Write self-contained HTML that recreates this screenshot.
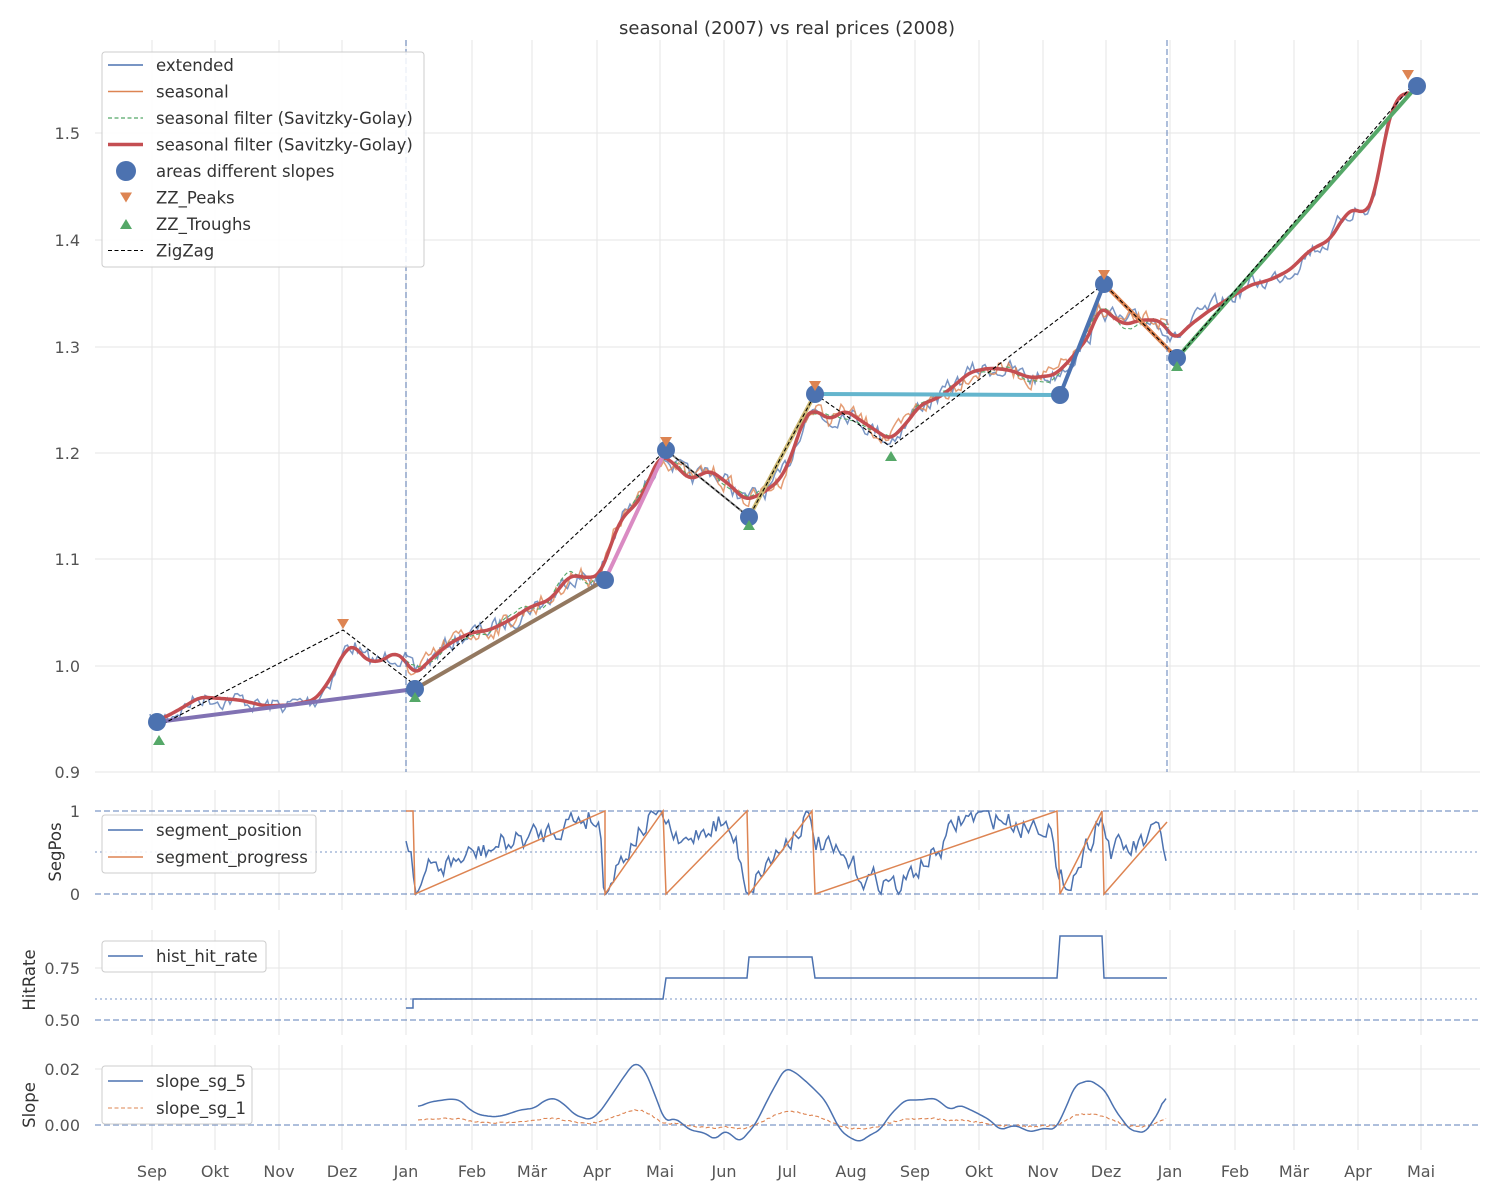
<!DOCTYPE html>
<html><head><meta charset="utf-8"><style>
body{margin:0;background:#fff}
svg{display:block;font-family:"DejaVu Sans","Liberation Sans",sans-serif}
</style></head><body>
<svg id="s" width="1500" height="1200" xmlns="http://www.w3.org/2000/svg"></svg>
<script>
const S=document.getElementById('s');let h='';
let seed=7;function rnd(){seed=(seed*16807)%2147483647;return seed/2147483647-0.5;}
function interp(P,x){if(x<=P[0][0])return P[0][1];for(let i=1;i<P.length;i++){if(x<=P[i][0]){const a=P[i-1],b=P[i];return a[1]+(b[1]-a[1])*(x-a[0])/(b[0]-a[0]);}}return P[P.length-1][1];}
function path(pts,st){return `<path d="M${pts.map(p=>p[0].toFixed(1)+','+p[1].toFixed(1)).join('L')}" fill="none" ${st}/>`;}
function smooth(arr,k){return arr.map((p,i)=>{let s=0,n=0;for(let j=-k;j<=k;j++){const q=arr[i+j];if(q){s+=q[1];n++;}}return [p[0],s/n];});}
function noisy(P,x0,x1,amp,step){let out=[];let v=0;for(let x=x0;x<=x1;x+=step){v=v*0.5+rnd()*amp;out.push([x,interp(P,x)+v]);}return out;}
const FS=16.5;
const months=[152,215,279,342,406,472,532,597,660,724,787,851,915,979,1043,1106,1170,1235,1294,1358,1421];
const mn=['Sep','Okt','Nov','Dez','Jan','Feb','Mär','Apr','Mai','Jun','Jul','Aug','Sep','Okt','Nov','Dez','Jan','Feb','Mär','Apr','Mai'];
const G='stroke="#e6e6e6" stroke-width="1"';
function vgrid(y0,y1){months.forEach(x=>h+=`<line x1="${x}" x2="${x}" y1="${y0}" y2="${y1}" ${G}/>`);}
h+=`<text x="787" y="34" font-size="18" fill="#333" text-anchor="middle">seasonal (2007) vs real prices (2008)</text>`;
vgrid(40,772);
[[0.9,772],[1.0,666],[1.1,559],[1.2,453],[1.3,347],[1.4,240],[1.5,133]].forEach(([v,y])=>{h+=`<line x1="95" x2="1480" y1="${y}" y2="${y}" ${G}/><text x="80" y="${y+6}" font-size="16" fill="#555" text-anchor="end">${v.toFixed(1)}</text>`;});
const R=[[155,722],[175,712],[200,697],[215,698],[240,700],[265,706],[290,705],[315,700],[330,680],[345,650],[355,645],[365,660],[380,662],[395,652],[405,660],[415,675],[430,660],[450,643],[470,633],[490,630],[510,620],[530,607],[550,600],[570,575],[590,578],[600,575],[620,520],[640,500],[660,455],[670,460],[690,480],[710,470],[730,485],[745,500],[760,495],[780,480],[790,460],[805,415],[815,410],[830,420],[845,410],[860,420],[875,430],[890,440],[905,425],[920,405],[940,397],[955,385],[970,372],[990,368],[1010,370],[1030,378],[1055,375],[1070,360],[1090,335],[1100,305],[1110,315],[1125,325],[1140,320],[1160,320],[1175,340],[1190,325],[1210,310],[1230,298],[1250,285],[1270,280],[1290,270],[1310,250],[1330,240],[1345,215],[1355,208],[1365,215],[1375,195],[1385,135],[1395,100],[1410,90]];
h+=path(noisy(R,150,1420,16,2.5),'stroke="#4c72b0" stroke-opacity="0.75" stroke-width="1.5"');
h+=path(noisy(R,406,1170,16,2.5),'stroke="#dd8452" stroke-opacity="0.8" stroke-width="1.5"');
h+=path(smooth(noisy(R,406,1170,14,2.5),3),'stroke="#55a868" stroke-width="1.1" stroke-dasharray="4,2.5"');
let rp=[];for(let x=155;x<=1410;x+=2)rp.push([x,interp(R,x)]);rp=smooth(rp,3);
h+=path(rp,'stroke="#c44e52" stroke-width="3.5" stroke-linejoin="round"');
const A=[[157,722],[415,689],[605,580],[666,450],[749,517],[815,394],[1060,395],[1104,284],[1177,358],[1417,86]];
const SC=['#8172b3','#937860','#da8bc3','#8c8c8c','#ccb974','#64b5cd','#4c72b0','#dd8452','#55a868'];
for(let i=0;i<9;i++){h+=`<line x1="${A[i][0]}" y1="${A[i][1]}" x2="${A[i+1][0]}" y2="${A[i+1][1]}" stroke="${SC[i]}" stroke-width="${i==3?2:4}"/>`;}
h+=path([[157,727],[343,630],[415,685],[666,450],[749,517],[815,394],[891,447],[1104,284],[1177,358],[1410,88]],'stroke="#000" stroke-width="1.1" stroke-dasharray="4,2.5"');
A.forEach(p=>h+=`<circle cx="${p[0]}" cy="${p[1]}" r="9" fill="#4c72b0"/>`);
[[343,624],[666,442],[815,386],[1104,275],[1408,75]].forEach(([x,y])=>h+=`<path d="M${x-6},${y-5}L${x+6},${y-5}L${x},${y+5}Z" fill="#dd8452"/>`);
[[159,740],[415,697],[749,525],[891,456],[1177,366]].forEach(([x,y])=>h+=`<path d="M${x-6},${y+5}L${x+6},${y+5}L${x},${y-5}Z" fill="#55a868"/>`);
[406,1167].forEach(x=>h+=`<line x1="${x}" x2="${x}" y1="40" y2="772" stroke="#4c72b0" stroke-opacity="0.6" stroke-width="1.5" stroke-dasharray="6,3"/>`);
h+=`<rect x="102" y="52" width="322" height="215" rx="3" fill="#fff" fill-opacity="0.85" stroke="#ccc"/>`;
const L=[['line','#4c72b0',1.5,'','extended'],['line','#dd8452',1.5,'','seasonal'],['line','#55a868',1.2,'4,2.5','seasonal filter (Savitzky-Golay)'],['line','#c44e52',3.5,'','seasonal filter (Savitzky-Golay)'],['dot','','','','areas different slopes'],['dn','','','','ZZ_Peaks'],['up','','','','ZZ_Troughs'],['line','#000',1.1,'4,2.5','ZigZag']];
L.forEach((e,i)=>{const y=65+i*26.5;if(e[0]=='line')h+=`<line x1="108" x2="143" y1="${y}" y2="${y}" stroke="${e[1]}" stroke-width="${e[2]}" ${e[3]?`stroke-dasharray="${e[3]}"`:''}/>`;
if(e[0]=='dot')h+=`<circle cx="126" cy="${y}" r="10" fill="#4c72b0"/>`;
if(e[0]=='dn')h+=`<path d="M120,${y-5}L132,${y-5}L126,${y+5}Z" fill="#dd8452"/>`;
if(e[0]=='up')h+=`<path d="M120,${y+5}L132,${y+5}L126,${y-5}Z" fill="#55a868"/>`;
h+=`<text x="156" y="${y+6}" font-size="${FS}" fill="#333">${e[4]}</text>`;});
// SegPos
vgrid(790,910);
h+=`<line x1="95" x2="1480" y1="811" y2="811" stroke="#4c72b0" stroke-opacity="0.6" stroke-width="1.5" stroke-dasharray="6,3"/><line x1="95" x2="1480" y1="894" y2="894" stroke="#4c72b0" stroke-opacity="0.6" stroke-width="1.5" stroke-dasharray="6,3"/><line x1="95" x2="1480" y1="852" y2="852" stroke="#4c72b0" stroke-opacity="0.6" stroke-width="1.3" stroke-dasharray="2,3"/>`;
h+=`<text x="80" y="817" font-size="16" fill="#555" text-anchor="end">1</text><text x="80" y="900" font-size="16" fill="#555" text-anchor="end">0</text>`;
h+=`<text transform="translate(61,852) rotate(-90)" font-size="${FS}" fill="#333" text-anchor="middle">SegPos</text>`;
const segs=[[415,605],[605,663],[666,747],[749,812],[815,1057],[1060,1102],[1104,1167]];
let op=[[406,811],[413,811]];segs.forEach((s,i)=>{op.push([s[0],894]);op.push([s[1],i==6?822:811]);});
const BP=[[406,840],[412,850],[416,890],[430,870],[460,860],[500,845],[540,835],[570,820],[590,815],[600,825],[604,890],[620,860],[640,830],[660,811],[670,830],[680,850],[700,830],[720,820],[735,840],[748,890],[760,870],[780,850],[795,830],[805,815],[815,840],[840,860],[870,880],[890,880],[900,890],[915,870],[940,850],[960,820],[990,815],[1020,825],[1050,820],[1058,890],[1075,870],[1090,840],[1100,811],[1110,850],[1130,850],[1150,840],[1160,830],[1167,860]];
h+=path(noisy(BP,406,1167,22,2.5).map(p=>[p[0],Math.max(811,Math.min(894,p[1]))]),'stroke="#4c72b0" stroke-width="1.5"');
h+=path(op,'stroke="#dd8452" stroke-width="1.5"');
h+=`<rect x="102" y="815" width="214" height="58" rx="3" fill="#fff" fill-opacity="0.85" stroke="#ccc"/>`;
h+=`<line x1="108" x2="143" y1="830" y2="830" stroke="#4c72b0" stroke-width="1.5"/><text x="156" y="836" font-size="${FS}" fill="#333">segment_position</text>`;
h+=`<line x1="108" x2="143" y1="857" y2="857" stroke="#dd8452" stroke-width="1.5"/><text x="156" y="863" font-size="${FS}" fill="#333">segment_progress</text>`;
// HitRate
vgrid(930,1035);
h+=`<line x1="95" x2="1480" y1="968" y2="968" ${G}/><line x1="95" x2="1480" y1="1020" y2="1020" stroke="#4c72b0" stroke-opacity="0.6" stroke-width="1.5" stroke-dasharray="6,3"/><line x1="95" x2="1480" y1="999" y2="999" stroke="#4c72b0" stroke-opacity="0.6" stroke-width="1.3" stroke-dasharray="2,3"/>`;
h+=`<text x="80" y="974" font-size="16" fill="#555" text-anchor="end">0.75</text><text x="80" y="1026" font-size="16" fill="#555" text-anchor="end">0.50</text>`;
h+=`<text transform="translate(35,980) rotate(-90)" font-size="${FS}" fill="#333" text-anchor="middle">HitRate</text>`;
h+=path([[406,1008],[413,1008],[413,999],[663,999],[666,978],[747,978],[749,957],[812,957],[815,978],[1057,978],[1060,936],[1102,936],[1104,978],[1167,978]],'stroke="#4c72b0" stroke-width="1.5"');
h+=`<rect x="102" y="941" width="164" height="31" rx="3" fill="#fff" fill-opacity="0.85" stroke="#ccc"/><line x1="108" x2="143" y1="956" y2="956" stroke="#4c72b0" stroke-width="1.5"/><text x="156" y="962" font-size="${FS}" fill="#333">hist_hit_rate</text>`;
// Slope
vgrid(1045,1150);
h+=`<line x1="95" x2="1480" y1="1069" y2="1069" ${G}/><line x1="95" x2="1480" y1="1125" y2="1125" stroke="#4c72b0" stroke-opacity="0.6" stroke-width="1.5" stroke-dasharray="6,3"/>`;
h+=`<text x="80" y="1075" font-size="16" fill="#555" text-anchor="end">0.02</text><text x="80" y="1131" font-size="16" fill="#555" text-anchor="end">0.00</text>`;
h+=`<text transform="translate(35,1105) rotate(-90)" font-size="${FS}" fill="#333" text-anchor="middle">Slope</text>`;
const SP=[[418,1107],[430,1102],[450,1099],[460,1100],[470,1110],[480,1115],[495,1117],[505,1115],[520,1110],[535,1108],[545,1100],[555,1098],[565,1105],[575,1115],[590,1120],[600,1112],[615,1090],[625,1075],[635,1062],[645,1070],[655,1095],[665,1122],[675,1118],[690,1130],[705,1133],[715,1140],[725,1130],[740,1142],[755,1125],[770,1095],[785,1068],[795,1072],[810,1085],[825,1100],[840,1130],[850,1138],[860,1142],[870,1135],[880,1130],[890,1115],[905,1100],[920,1100],[935,1098],[950,1110],[960,1105],[975,1112],[990,1120],[1000,1130],[1015,1125],[1030,1132],[1045,1128],[1055,1130],[1065,1110],[1075,1085],[1090,1080],[1105,1090],[1115,1110],[1130,1130],[1145,1133],[1160,1110],[1167,1090]];
let sp=[];for(let x=418;x<=1167;x+=2)sp.push([x,interp(SP,x)]);sp=smooth(sp,2);
h+=path(sp.map(p=>[p[0],1125-(1125-p[1])*0.25+rnd()*1.5]),'stroke="#dd8452" stroke-width="1.1" stroke-dasharray="4,2.5"');
h+=path(sp,'stroke="#4c72b0" stroke-width="1.5"');
h+=`<rect x="102" y="1066" width="150" height="58" rx="3" fill="#fff" fill-opacity="0.85" stroke="#ccc"/>`;
h+=`<line x1="108" x2="143" y1="1081" y2="1081" stroke="#4c72b0" stroke-width="1.5"/><text x="156" y="1087" font-size="${FS}" fill="#333">slope_sg_5</text>`;
h+=`<line x1="108" x2="143" y1="1108" y2="1108" stroke="#dd8452" stroke-width="1.1" stroke-dasharray="4,2.5"/><text x="156" y="1114" font-size="${FS}" fill="#333">slope_sg_1</text>`;
months.forEach((x,i)=>h+=`<text x="${x}" y="1177" font-size="16" fill="#555" text-anchor="middle">${mn[i]}</text>`);
S.innerHTML=h;
</script>
</body></html>
